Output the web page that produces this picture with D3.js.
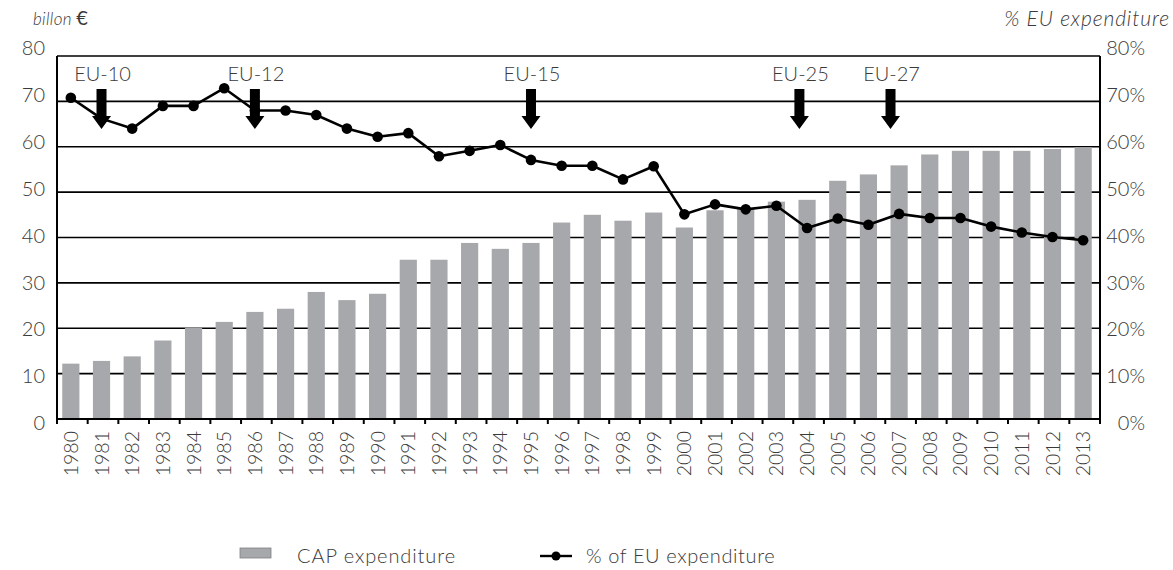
<!DOCTYPE html>
<html>
<head>
<meta charset="utf-8">
<script src="https://cdn.jsdelivr.net/npm/d3@7"></script>
<style>
  html, body { margin: 0; padding: 0; background: #fff; }
  svg { display: block; font-family: Lato, "Open Sans", sans-serif; font-weight: 300; }
</style>
</head>
<body>
<svg id="chart" width="1173" height="570"></svg>
<script>
const years = [1980,1981,1982,1983,1984,1985,1986,1987,1988,1989,1990,1991,1992,1993,1994,1995,1996,1997,1998,1999,2000,2001,2002,2003,2004,2005,2006,2007,2008,2009,2010,2011,2012,2013];
const capExpenditure = [12.2,12.8,13.8,17.3,20.1,21.4,23.6,24.3,28.0,26.2,27.6,35.1,35.1,38.8,37.5,38.8,43.3,45.0,43.7,45.5,42.2,46.0,46.4,47.9,48.3,52.5,53.9,55.9,58.3,59.1,59.1,59.1,59.5,59.9];
const pctEU = [70.8,66.2,64.0,69.0,69.0,72.9,68.0,68.0,67.0,64.0,62.2,63.0,57.9,59.1,60.4,57.1,55.8,55.8,52.8,55.7,45.1,47.3,46.2,47.0,42.1,44.2,42.8,45.2,44.3,44.3,42.4,41.1,40.1,39.4];
const leftTicks = [0,10,20,30,40,50,60,70,80];
const rightTicks = [0,10,20,30,40,50,60,70,80];
const enlargements = ["EU-10","EU-12","EU-15","EU-25","EU-27"];
const enlargementYears = [1981,1986,1995,2004,2007];
const enlargementShift = [0,0,0,-0.25,-0.28];
const leftTitle = "billon";
const rightTitle = "% EU expenditure";
const legendLabels = ["CAP expenditure","% of EU expenditure"];

const svg = d3.select("#chart");
const L = 57, R = 1100, T = 56, B = 419;
const textColor = "#3a3a3a";
const barColor = "#a7a8ab";

const x = d3.scaleBand().domain(years).range([L, R]).paddingInner(0.44).paddingOuter(0.22);
const step = x.step();
const y = d3.scaleLinear().domain([0, 80]).range([B, T]);
const yPct = d3.scaleLinear().domain([0, 80]).range([B, T]);
const yLab = d3.scaleLinear().domain([0, 80]).range([423, 48]);

// gridlines
svg.append("g").selectAll("line").data(leftTicks.filter(d => d > 0 && d < 80)).join("line")
  .attr("x1", L).attr("x2", R).attr("y1", d => y(d)).attr("y2", d => y(d))
  .attr("stroke", "#000").attr("stroke-width", 1.6);

// bars
svg.append("g").selectAll("rect").data(years).join("rect")
  .attr("x", d => x(d) - 1.5).attr("width", x.bandwidth())
  .attr("y", (d, i) => y(capExpenditure[i]))
  .attr("height", (d, i) => y(0) - y(capExpenditure[i]))
  .attr("fill", barColor);

// frame
svg.append("line").attr("x1", L).attr("x2", R).attr("y1", T).attr("y2", T).attr("stroke", "#000").attr("stroke-width", 1.6);
svg.append("line").attr("x1", R).attr("x2", R).attr("y1", T).attr("y2", B + 5).attr("stroke", "#000").attr("stroke-width", 2);
svg.append("line").attr("x1", L).attr("x2", L).attr("y1", T).attr("y2", B + 5).attr("stroke", "#000").attr("stroke-width", 2);
svg.append("line").attr("x1", L).attr("x2", R).attr("y1", B).attr("y2", B).attr("stroke", "#000").attr("stroke-width", 2);

// x ticks at band boundaries
const bounds = d3.range(years.length + 1).map(i => L + i * (R - L) / years.length);
svg.append("g").selectAll("line").data(bounds).join("line")
  .attr("x1", d => d).attr("x2", d => d).attr("y1", B).attr("y2", B + 5)
  .attr("stroke", "#000").attr("stroke-width", 2);

// x labels
svg.append("g").selectAll("text").data(years).join("text")
  .attr("transform", d => `translate(${x(d) - 1.5 + x.bandwidth() / 2},431) rotate(-90)`)
  .attr("text-anchor", "end").attr("dy", "0.36em")
  .attr("font-size", 19.5).attr("fill", textColor)
  .text(d => d);

// left y labels
svg.append("g").selectAll("text").data(leftTicks).join("text")
  .attr("x", 45).attr("y", d => yLab(d)).attr("dy", "0.36em")
  .attr("text-anchor", "end").attr("font-size", 20).attr("fill", textColor)
  .text(d => d);

// right y labels
svg.append("g").selectAll("text").data(rightTicks).join("text")
  .attr("x", 1145).attr("y", d => yLab(d)).attr("dy", "0.36em")
  .attr("text-anchor", "end").attr("font-size", 20).attr("fill", textColor)
  .text(d => d + "%");

// axis titles
const lt = svg.append("text").attr("x", 33).attr("y", 25).attr("fill", textColor);
lt.append("tspan").attr("font-style", "italic").attr("font-size", 17).attr("letter-spacing", 0.3).text(leftTitle + " ");
lt.append("tspan").attr("font-size", 20).attr("font-weight", 400).text("€");
svg.append("text").attr("x", 1170).attr("y", 26).attr("text-anchor", "end")
  .attr("font-style", "italic").attr("font-size", 21).attr("letter-spacing", 0.9)
  .attr("fill", textColor).text(rightTitle);

// enlargement arrows
const ax = i => x(enlargementYears[i]) - 1.5 + x.bandwidth() / 2 + enlargementShift[i] * step;
const ag = svg.append("g");
enlargements.forEach((lab, i) => {
  const cx = ax(i);
  ag.append("path")
    .attr("d", `M${cx - 5},89 L${cx + 5},89 L${cx + 5},116 L${cx + 9.5},116 L${cx},129 L${cx - 9.5},116 L${cx - 5},116 Z`)
    .attr("fill", "#000");
  ag.append("text").attr("x", cx + 1).attr("y", 80.5).attr("text-anchor", "middle")
    .attr("font-size", 20).attr("fill", textColor).text(lab);
});

// line series
const line = d3.line().x((d, i) => x(years[i]) - 1.5 + x.bandwidth() / 2).y(d => yPct(d));
svg.append("path").datum(pctEU).attr("d", line).attr("fill", "none")
  .attr("stroke", "#000").attr("stroke-width", 2.6).attr("stroke-linejoin", "round");
svg.append("g").selectAll("circle").data(pctEU).join("circle")
  .attr("cx", (d, i) => x(years[i]) - 1.5 + x.bandwidth() / 2).attr("cy", d => yPct(d))
  .attr("r", 5.3).attr("fill", "#000");

// legend
svg.append("rect").attr("x", 240).attr("y", 548).attr("width", 31).attr("height", 10)
  .attr("fill", barColor).attr("stroke", "#808080").attr("stroke-width", 0.8);
svg.append("text").attr("x", 297).attr("y", 563).attr("font-size", 20).attr("letter-spacing", 0.9)
  .attr("fill", textColor).text(legendLabels[0]);
svg.append("line").attr("x1", 540).attr("x2", 572).attr("y1", 556).attr("y2", 556).attr("stroke", "#000").attr("stroke-width", 2.4);
svg.append("circle").attr("cx", 556).attr("cy", 556).attr("r", 4.5).attr("fill", "#000");
svg.append("text").attr("x", 586).attr("y", 563).attr("font-size", 20).attr("letter-spacing", 0.6)
  .attr("fill", textColor).text(legendLabels[1]);
</script>
</body>
</html>
